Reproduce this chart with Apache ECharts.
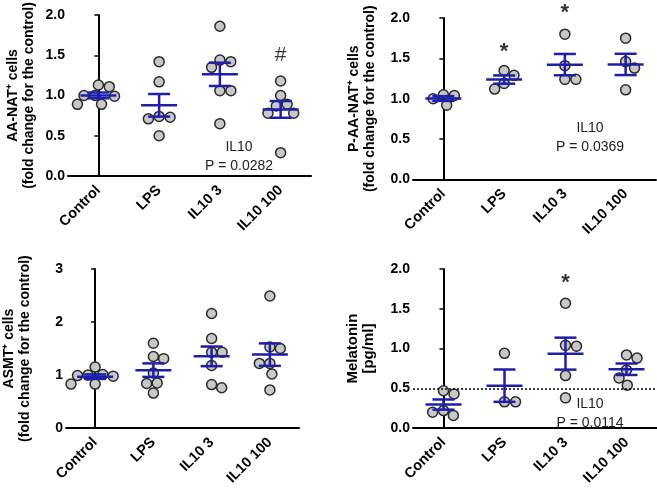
<!DOCTYPE html>
<html><head><meta charset="utf-8">
<script src="https://cdn.jsdelivr.net/npm/echarts@6/dist/echarts.min.js"></script>
<style>html,body{margin:0;padding:0;background:#fff}#c{width:657px;height:488px}</style>
</head><body><div id="c"></div>
<script>
// ---------- data ----------
const categories = ['Control', 'LPS', 'IL10 3', 'IL10 100'];

const aanatControl = [1.13, 1.11, 1.00, 1.00, 0.99, 0.89, 0.89];
const aanatLPS     = [1.42, 1.17, 0.74, 0.73, 0.71, 0.50];
const aanatIL3     = [1.86, 1.44, 1.42, 1.35, 1.06, 1.06, 0.65];
const aanatIL100   = [1.18, 1.00, 0.89, 0.87, 0.78, 0.78, 0.29];

const paanatControl = [1.05, 1.04, 1.00, 0.92];
const paanatLPS     = [1.35, 1.29, 1.19, 1.12];
const paanatIL3     = [1.80, 1.41, 1.24, 1.24];
const paanatIL100   = [1.75, 1.46, 1.38, 1.11];

const asmtControl = [1.15, 1.01, 1.00, 0.99, 0.98, 0.83, 0.83];
const asmtLPS     = [1.60, 1.35, 1.31, 1.04, 0.85, 0.84, 0.66];
const asmtIL3     = [2.16, 1.69, 1.43, 1.43, 1.18, 0.82, 0.76];
const asmtIL100   = [2.49, 1.53, 1.50, 1.22, 1.22, 1.02, 0.72];

const melControl = [0.47, 0.43, 0.22, 0.20, 0.16];
const melLPS     = [0.94, 0.33, 0.33];
const melIL3     = [1.57, 1.04, 1.03, 0.66, 0.38];
const melIL100   = [0.92, 0.88, 0.73, 0.63, 0.54];
const melThreshold = 0.5;

const yMaxes = [2, 2, 3, 2];
const yIntervals = [0.5, 0.5, 1, 0.5];
const yDecimals = [1, 1, 0, 1];
const yNames = [
  'AA-NAT\u207A cells\n(fold change for the control)',
  'P-AA-NAT\u207A cells\n(fold change for the control)',
  'ASMT\u207A cells\n(fold change for the control)',
  'Melatonin\n[pg/ml]'
];
// significance marks: [panel, category index, value, symbol]
const sigMarks = [
  [0, 3, 1.50, '#'],
  [1, 1, 1.58, '*'],
  [1, 2, 2.06, '*'],
  [3, 2, 1.82, '*']
];
const statTexts = ['IL10\nP = 0.0282', 'IL10\nP = 0.0369', '', 'IL10\nP = 0.0114'];

const panels = [
  [aanatControl, aanatLPS, aanatIL3, aanatIL100],
  [paanatControl, paanatLPS, paanatIL3, paanatIL100],
  [asmtControl, asmtLPS, asmtIL3, asmtIL100],
  [melControl, melLPS, melIL3, melIL100]
];

// ---------- layout ----------
const grids = [
  {left: 68, top: 15, width: 243, height: 161},
  {left: 413, top: 18, width: 243, height: 161.5},
  {left: 55, top: 269, width: 244, height: 162},
  {left: 413, top: 269, width: 244, height: 162}
];
const nameGaps = [31, 35, 33, 36];
const statPos = [[239, 157], [590, 138], [0, 0], [590, 414]];
const BLUE = '#1e1ea8';
const FONT = 'Arial, "Liberation Sans", Helvetica, sans-serif';
const DIAM = 10;
const GAP = 11;

function swarm(vals, pxY) {
  const order = vals.map((v, i) => i).sort((a, b) => vals[b] - vals[a]);
  const placed = [];
  const off = new Array(vals.length).fill(0);
  for (const i of order) {
    const y = vals[i] * pxY;
    const cands = [0];
    let bal = 0;
    for (const p of placed) {
      const dy = Math.abs(p.y - y);
      if (dy < 2 * GAP) bal += p.x;
      if (dy < GAP) {
        const dx = Math.sqrt(GAP * GAP - dy * dy) + 0.01;
        cands.push(p.x + dx, p.x - dx);
      }
    }
    const pref = bal > 0 ? -1 : 1;
    cands.sort((a, b) => (Math.abs(a) - Math.abs(b)) || (Math.sign(b) * pref - Math.sign(a) * pref));
    let chosen = 0;
    for (const c of cands) {
      let ok = true;
      for (const p of placed) {
        if (Math.hypot(p.x - c, p.y - y) < GAP - 0.02) { ok = false; break; }
      }
      if (ok) { chosen = c; break; }
    }
    placed.push({x: chosen, y});
    off[i] = chosen;
  }
  return off;
}

function meanSem(v) {
  const n = v.length;
  const m = v.reduce((a, b) => a + b, 0) / n;
  const sd = Math.sqrt(v.reduce((a, b) => a + (b - m) * (b - m), 0) / (n - 1));
  return [m, sd / Math.sqrt(n)];
}

function renderMean(params, api) {
  const x = api.value(0), m = api.value(1), s = api.value(2);
  const c = api.coord([x, m]);
  const hi = api.coord([x, m + s]);
  const lo = api.coord([x, m - s]);
  const hw = 18, cw = 11;
  const style = {stroke: BLUE, lineWidth: 2.5, fill: null};
  return {type: 'group', children: [
    {type: 'line', shape: {x1: c[0] - hw, y1: c[1], x2: c[0] + hw, y2: c[1]}, style},
    {type: 'line', shape: {x1: c[0], y1: hi[1], x2: c[0], y2: lo[1]}, style},
    {type: 'line', shape: {x1: c[0] - cw, y1: hi[1], x2: c[0] + cw, y2: hi[1]}, style},
    {type: 'line', shape: {x1: c[0] - cw, y1: lo[1], x2: c[0] + cw, y2: lo[1]}, style}
  ]};
}

const xAxes = [], yAxes = [], series = [], graphics = [];
panels.forEach((groups, g) => {
  const grid = grids[g];
  const pxX = grid.width / 4;
  const pxY = grid.height / yMaxes[g];
  xAxes.push({
    type: 'category', gridIndex: g, data: categories, boundaryGap: true,
    axisLine: {lineStyle: {color: '#000', width: 2}},
    axisTick: {alignWithLabel: true, length: 5, lineStyle: {color: '#000', width: 2}},
    axisLabel: {interval: 0, rotate: 45, margin: 12, color: '#000', fontWeight: 'bold', fontSize: 14.5, fontFamily: FONT},
    splitLine: {show: false}
  });
  xAxes.push({
    type: 'value', gridIndex: g, min: -0.5, max: 3.5, show: false
  });
  yAxes.push({
    type: 'value', gridIndex: g, min: 0, max: yMaxes[g], interval: yIntervals[g],
    name: yNames[g], nameLocation: 'middle', nameRotate: 90, nameGap: nameGaps[g],
    nameTextStyle: {color: '#000', fontWeight: 'bold', fontSize: g === 3 ? 15 : 14, lineHeight: 16, fontFamily: FONT},
    axisLine: {show: true, lineStyle: {color: '#000', width: 2}},
    axisTick: {show: true, length: 4, lineStyle: {color: '#000', width: 1.5}},
    axisLabel: {margin: 3, color: '#000', fontWeight: 'bold', fontSize: 14, fontFamily: FONT,
      formatter: v => v.toFixed(yDecimals[g])},
    splitLine: {show: false}
  });
  const pts = [], means = [];
  groups.forEach((vals, ci) => {
    const off = swarm(vals, pxY);
    vals.forEach((v, i) => pts.push([ci + off[i] / pxX, v]));
    const [m, s] = meanSem(vals);
    means.push([ci, m, s]);
  });
  const scatter = {
    type: 'scatter', xAxisIndex: 2 * g + 1, yAxisIndex: g, data: pts,
    symbol: 'circle', symbolSize: DIAM, z: 3, clip: false,
    itemStyle: {color: '#c8c8c8', borderColor: '#2a2a2a', borderWidth: 1.5, opacity: 1},
    silent: true
  };
  if (g === 3) {
    scatter.markLine = {
      silent: true, symbol: ['none', 'none'], label: {show: false},
      lineStyle: {color: '#000', type: [2, 2], width: 1.5},
      data: [{yAxis: melThreshold}]
    };
  }
  series.push(scatter);
  series.push({
    type: 'custom', xAxisIndex: 2 * g + 1, yAxisIndex: g, data: means,
    renderItem: renderMean, z: 5, silent: true, clip: false
  });
  const marks = sigMarks.filter(s => s[0] === g).map(s => ({
    value: [s[1], s[2]],
    label: {formatter: s[3], fontWeight: s[3] === '#' ? 'normal' : 'bold', fontSize: s[3] === '#' ? 21 : 22}
  }));
  if (marks.length) {
    series.push({
      type: 'scatter', xAxisIndex: 2 * g + 1, yAxisIndex: g, data: marks,
      symbolSize: 2, itemStyle: {color: 'rgba(0,0,0,0)'}, clip: false, silent: true, z: 6,
      label: {show: true, position: 'inside', color: '#000', fontSize: 22, fontWeight: 'bold', fontFamily: FONT}
    });
  }
  if (statTexts[g]) {
    graphics.push({
      type: 'text', x: statPos[g][0], y: statPos[g][1],
      style: {text: statTexts[g], fill: '#222', font: '14px ' + FONT, textAlign: 'center', textVerticalAlign: 'middle', lineHeight: 19}
    });
  }
});

const chart = echarts.init(document.getElementById('c'), null, {renderer: 'canvas'});
chart.setOption({
  animation: false,
  backgroundColor: '#fff',
  grid: grids.map(gr => Object.assign({containLabel: false}, gr)),
  xAxis: xAxes,
  yAxis: yAxes,
  series: series,
  graphic: graphics
});
</script>
</body></html>
